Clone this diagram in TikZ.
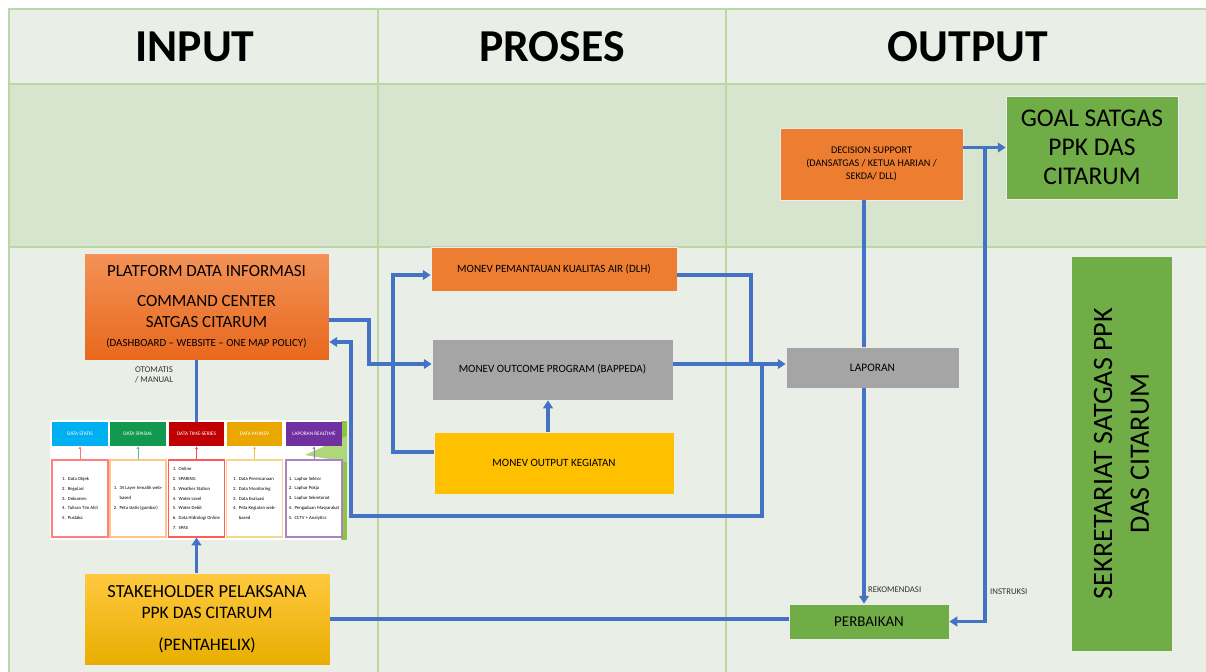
\documentclass[tikz,border=0pt]{standalone}
\usepackage{fontspec}
\setmainfont{Carlito}
\usetikzlibrary{arrows.meta}

\definecolor{rowlight}{HTML}{E9EFE7}
\definecolor{rowdark}{HTML}{D7E4CE}
\definecolor{gridgreen}{HTML}{B9D8A4}
\definecolor{flowblue}{HTML}{4472C4}
\definecolor{boxorange}{HTML}{ED7D31}
\definecolor{boxgray}{HTML}{A5A5A5}
\definecolor{boxyellow}{HTML}{FFC000}
\definecolor{boxgreen}{HTML}{70AD47}
\definecolor{platTop}{HTML}{F39257}
\definecolor{platBot}{HTML}{E8681C}
\definecolor{stakeTop}{HTML}{FFC93F}
\definecolor{stakeBot}{HTML}{E8AE00}
\definecolor{tabCyan}{HTML}{00B0F0}
\definecolor{tabGreen}{HTML}{12994F}
\definecolor{tabRed}{HTML}{C00000}
\definecolor{tabGold}{HTML}{E9A700}
\definecolor{tabPurple}{HTML}{7030A0}
\definecolor{tabLeaf}{HTML}{8CC63F}

\begin{document}
\begin{tikzpicture}[x=0.02cm, y=-0.02cm,
    box/.style={draw=white!85!gray, line width=0.4pt, align=center, inner sep=0pt, text=black},
    line/.style={flowblue, line width=1.8pt},
    flow/.style={line, -{Triangle[length=4.5pt,width=5.5pt]}},
    note/.style={font=\fontsize{5}{6}\selectfont, text=black!80, align=center, inner sep=1pt},
    title/.style={font=\fontsize{26}{30}\selectfont\bfseries},
    head/.style={minimum width=1.12cm, minimum height=0.48cm, inner sep=0pt, text=white, font=\fontsize{3}{3.6}\selectfont},
    cell/.style={line width=0.6pt, fill=white, minimum width=1.12cm, minimum height=1.54cm, align=left, inner sep=0pt, font=\fontsize{2.7}{5.6}\selectfont},
    tick/.style={line width=0.5pt, -{Triangle[length=1.5pt,width=1.5pt]}}]

    \useasboundingbox (0,0) rectangle (1206,672);

    % Rows
    \fill[white] (0,0) rectangle (1206,672);
    \fill[rowlight] (9,9) rectangle (1206,84);
    \fill[rowdark] (9,84) rectangle (1206,247);
    \fill[rowlight] (9,247) rectangle (1206,672);

    % Grid
    \draw[gridgreen, line width=0.6pt] (9,672) -- (9,9) -- (1206,9);
    \draw[gridgreen, line width=0.6pt] (9,84) -- (1206,84);
    \draw[gridgreen, line width=0.6pt] (9,247) -- (1206,247);
    \draw[gridgreen, line width=0.6pt] (378,9) -- (378,672);
    \draw[gridgreen, line width=0.6pt] (726,9) -- (726,672);

    % Titles
    \node[title] (tin) at (195,47) {INPUT};
    \node[title] (tpro) at (552,47) {PROSES};
    \node[title] (tout) at (968,47) {OUTPUT};

    % Input boxes
    \node[box, top color=platTop, bottom color=platBot, minimum width=4.9cm, minimum height=2.14cm] (plat) at (206.5,306.5)
        {\fontsize{9.7}{11}\selectfont PLATFORM DATA INFORMASI\\[5pt]
         \fontsize{9.7}{11}\selectfont COMMAND CENTER\\
         \fontsize{9.7}{11}\selectfont SATGAS CITARUM\\[-1pt]
         \fontsize{6.2}{8}\selectfont (DASHBOARD -- WEBSITE -- ONE MAP POLICY)};
    \node[note] (oto) at (154,375) {OTOMATIS\\/ MANUAL};
    \node[box, top color=stakeTop, bottom color=stakeBot, minimum width=4.92cm, minimum height=1.84cm] (stake) at (207,619)
        {\fontsize{10.5}{12}\selectfont STAKEHOLDER PELAKSANA\\
         PPK DAS CITARUM\\[6pt]
         (PENTAHELIX)};

    % Data table
    \fill[white] (50,420) rectangle (347,540);
    \fill[tabLeaf] (341,421) rectangle (347,540);
    \fill[tabLeaf!70!white] (305,455) -- (347,436) -- (347,462) -- cycle;
    \node[head, fill=tabCyan] (h1) at (80,434) {DATA STATIS};
    \node[head, fill=tabGreen] (h2) at (138,434) {DATA SPASIAL};
    \node[head, fill=tabRed] (h3) at (196.5,434) {DATA TIME-SERIES};
    \node[head, fill=tabGold] (h4) at (254.5,434) {DATA MONEV};
    \node[head, fill=tabPurple] (h5) at (314,434) {LAPORAN REALTIME};
    \node[cell, draw=red!50!white] (c1) at (80,498.5)
        {1.\ \ Data Objek\\2.\ \ Regulasi\\3.\ \ Dokumen\\4.\ \ Tulisan Tim Ahli\\5.\ \ Pustaka};
    \node[cell, draw=orange!45!white] (c2) at (138,498.5)
        {1.\ \ 34 Layer tematik web-\\\phantom{1.\ \ }based\\2.\ \ Peta statis (gambar)};
    \node[cell, draw=red!65!white] (c3) at (196.5,498.5)
        {1.\ \ Online\\2.\ \ SPARING\\3.\ \ Weather Station\\4.\ \ Water Level\\5.\ \ Water Debit\\6.\ \ Data Hidrologi Online\\7.\ \ SPAS};
    \node[cell, draw=tabGold!45!white] (c4) at (254.5,498.5)
        {1.\ \ Data Perencanaan\\2.\ \ Data Monitoring\\3.\ \ Data Evaluasi\\4.\ \ Peta Kegiatan web-\\\phantom{4.\ \ }based};
    \node[cell, draw=tabPurple!60!white] (c5) at (314,498.5)
        {1.\ \ Laphar Sektor\\2.\ \ Laphar Pokja\\3.\ \ Laphar Sekretariat\\4.\ \ Pengaduan Masyarakat\\5.\ \ CCTV + Analytics};
    \draw[tick, red!55!white] (c1) -- (h1);
    \draw[tick, tabGreen!70!white] (c2) -- (h2);
    \draw[tick, red!70!white] (c3) -- (h3);
    \draw[tick, tabGold!70!white] (c4) -- (h4);
    \draw[tick, tabPurple!70!white] (c5) -- (h5);

    % Process boxes
    \node[box, fill=boxorange, minimum width=4.92cm, minimum height=0.88cm, font=\fontsize{6.3}{8}\selectfont] (dlh) at (554,269)
        {MONEV PEMANTAUAN KUALITAS AIR (DLH)};
    \node[box, fill=boxgray, minimum width=4.82cm, minimum height=1.22cm, font=\fontsize{6.3}{8}\selectfont] (outcome) at (552.5,369.5)
        {MONEV OUTCOME PROGRAM (BAPPEDA)};
    \node[box, fill=boxyellow, minimum width=4.8cm, minimum height=1.24cm, font=\fontsize{6.3}{8}\selectfont] (keg) at (554,463)
        {MONEV OUTPUT KEGIATAN};

    % Output boxes
    \node[box, fill=boxorange, minimum width=3.66cm, minimum height=1.44cm, font=\fontsize{5.8}{7.3}\selectfont] (dec) at (871.5,164)
        {DECISION SUPPORT\\(DANSATGAS / KETUA HARIAN /\\SEKDA/ DLL)};
    \node[box, fill=boxgreen, minimum width=3.44cm, minimum height=2.06cm, font=\fontsize{14.5}{16.5}\selectfont] (goal) at (1092,147.5)
        {GOAL SATGAS\\PPK DAS\\CITARUM};
    \node[box, fill=boxgray, minimum width=3.46cm, minimum height=0.82cm, font=\fontsize{6.5}{8}\selectfont] (lap) at (872.5,367.5)
        {LAPORAN};
    \node[box, fill=boxgreen, minimum width=3.2cm, minimum height=0.7cm, font=\fontsize{8.5}{10}\selectfont] (perb) at (869,621.5)
        {PERBAIKAN};
    \node[box, fill=boxgreen, rotate=90, minimum width=7.9cm, minimum height=2.02cm, font=\fontsize{16}{21}\selectfont] (sek) at (1121.5,453.5)
        {SEKRETARIAT SATGAS PPK\\DAS CITARUM};

    % Input links
    \draw[line] (plat.south -| h3.north) -- (h3.north);
    \draw[flow] (stake.north -| c3.south) -- (c3.south);
    \draw[line] (stake.east) -- (perb.west |- stake.east);

    % Process links
    \draw[flow] (plat.east |- 0,320) -| (369,364) -- (outcome.west |- 0,364);
    \draw[flow] (keg.west |- 0,452) -| (393,275) -- (dlh.west |- 0,275);
    \draw[flow] (keg.north -| 548,0) -- (outcome.south -| 548,0);
    \draw[line] (dlh.east |- 0,275) -| (751,364);
    \draw[flow] (outcome.east |- 0,364) -- (lap.west |- 0,364);

    % Feedback to platform
    \coordinate (back) at (762,364);
    \draw[flow] (back) |- (351,516) |- (plat.east |- 0,342);

    % Output links
    \draw[line] (dec.south -| 864,0) -- (lap.north -| 864,0);
    \draw[flow] (lap.south -| 864,0) -- (perb.north -| 864,0);
    \node[note, anchor=west] (rek) at (866,590) {REKOMENDASI};
    \draw[flow] (dec.east |- goal.west) -- (goal.west);
    \coordinate (split) at (985,147.5);
    \draw[flow] (split) |- (perb.east);
    \node[note, anchor=west] (ins) at (988,592) {INSTRUKSI};
\end{tikzpicture}
\end{document}
